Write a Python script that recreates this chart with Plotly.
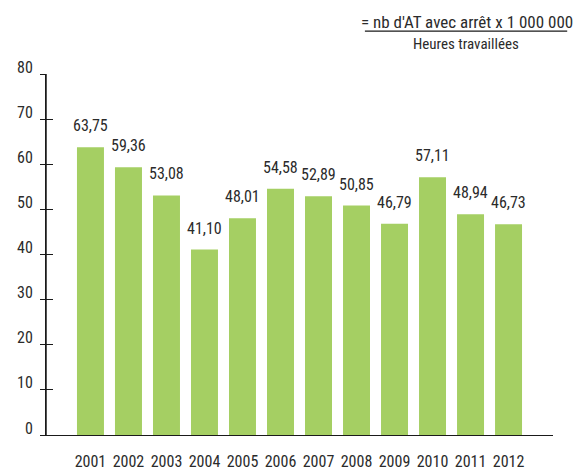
import plotly.graph_objects as go

years = ["2001", "2002", "2003", "2004", "2005", "2006", "2007", "2008", "2009", "2010", "2011", "2012"]
values = [63.75, 59.36, 53.08, 41.10, 48.01, 54.58, 52.89, 50.85, 46.79, 57.11, 48.94, 46.73]
labels = [f"{v:.2f}".replace(".", ",") for v in values]
y_ticks = [0, 10, 20, 30, 40, 50, 60, 70, 80]

FONT = "Liberation Sans Narrow, Roboto Condensed, Arial Narrow, sans-serif"
TXT = "#2b2b2b"
AX = "#1a1a1a"

fig = go.Figure()
fig.add_trace(go.Bar(
    x=list(range(len(years))), y=values,
    marker=dict(color="#a5cf63", line=dict(width=0)),
    hoverinfo="skip",
))
# invisible trace on overlay axis for inside ticks
fig.add_trace(go.Scatter(x=[0], y=[0], yaxis="y2", mode="markers",
                         marker=dict(opacity=0), showlegend=False, hoverinfo="skip"))

for i, (v, lab) in enumerate(zip(values, labels)):
    fig.add_annotation(x=i, y=v, text=lab, showarrow=False, xanchor="center",
                       yanchor="bottom", yshift=10,
                       font=dict(family=FONT, size=16, color=TXT))

for t in y_ticks:
    fig.add_annotation(x=0, xref="paper", y=t, yref="y", text=str(t), showarrow=False,
                       xanchor="right", yanchor="middle", xshift=-11, yshift=7,
                       font=dict(family=FONT, size=16, color=TXT))

fig.update_layout(
    width=576, height=473,
    margin=dict(l=46, r=23, t=74, b=38, autoexpand=False),
    paper_bgcolor="white", plot_bgcolor="white",
    showlegend=False, bargap=0.29,
    font=dict(family=FONT, color=TXT),
    xaxis=dict(
        range=[-1.17, 12.17], tickmode="array",
        tickvals=list(range(len(years))), ticktext=years,
        showline=True, linecolor=AX, linewidth=1.3,
        ticks="", showgrid=False, zeroline=False, automargin=False,
        tickfont=dict(family=FONT, size=16, color=TXT),
        ticklabelstandoff=12,
    ),
    yaxis=dict(
        range=[0, 80], tickmode="array", tickvals=y_ticks,
        showline=True, linecolor=AX, linewidth=1.3,
        ticks="outside", ticklen=5, tickcolor=AX, tickwidth=1.2,
        showticklabels=False,
        showgrid=False, zeroline=False, automargin=False,
    ),
    yaxis2=dict(
        range=[0, 80], overlaying="y", side="left", tickmode="array",
        tickvals=y_ticks, ticks="inside", ticklen=7, tickcolor=AX,
        tickwidth=1.2, showticklabels=False, showgrid=False, zeroline=False,
        showline=False, automargin=False,
    ),
)

# vertical axis line (explicit, over the full plot height = value range)
fig.add_shape(type="line", xref="paper", yref="paper", x0=0, x1=0,
              y0=0, y1=1, line=dict(color=AX, width=1.5), layer="above")

fig.add_annotation(
    text="= nb d'AT avec arrêt x 1 000 000", xref="paper", yref="paper",
    x=0.830, y=1.144, showarrow=False, xanchor="center", yanchor="middle",
    font=dict(family=FONT, size=17, color=TXT),
)
fig.add_annotation(
    text="Heures travaillées", xref="paper", yref="paper",
    x=0.829, y=1.083, showarrow=False, xanchor="center", yanchor="middle",
    font=dict(family=FONT, size=15, color=TXT),
)
fig.add_shape(type="line", xref="paper", yref="paper",
              x0=0.629, x1=1.028, y0=1.119, y1=1.119,
              line=dict(color=AX, width=1.2))

fig.write_html("out.html", config={"displayModeBar": False},
               post_script="document.body.style.margin='0';document.body.style.padding='0';")
